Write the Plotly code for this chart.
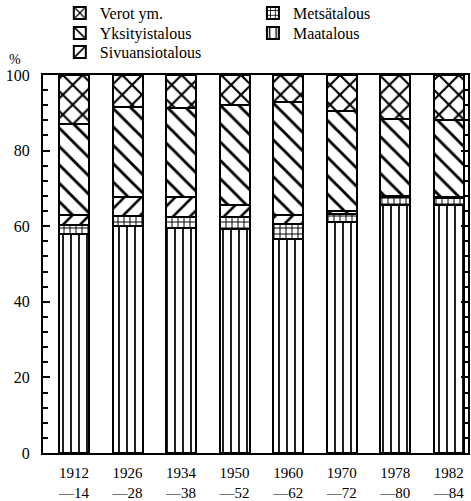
import plotly.graph_objects as go

periods = ["1912<br>—14", "1926<br>—28", "1934<br>—38", "1950<br>—52",
           "1960<br>—62", "1970<br>—72", "1978<br>—80", "1982<br>—84"]

maatalous       = [58.0, 60.0, 59.5, 59.3, 56.5, 61.0, 65.5, 65.5]
metsatalous     = [2.2, 2.7, 3.0, 3.2, 4.2, 2.3, 2.1, 2.0]
sivuansiotalous = [2.7, 4.9, 5.1, 3.1, 2.2, 0.8, 0.4, 0.3]
yksityistalous  = [24.2, 24.0, 23.8, 26.4, 29.9, 26.4, 20.3, 20.3]
verot           = [12.9, 8.4, 8.6, 8.0, 7.2, 9.5, 11.7, 11.9]

# name, values, pattern, size, solidity, legend id, legend x, legend y (container fractions)
series = [
    ("Maatalous", maatalous, "|", 8, 0.22, "legend5", 0.537, 1 - 33 / 501),
    ("Metsätalous", metsatalous, "+", 6, 0.3, "legend4", 0.537, 1 - 13 / 501),
    ("Sivuansiotalous", sivuansiotalous, "/", 12, 0.22, "legend3", 0.127, 1 - 52 / 501),
    ("Yksityistalous", yksityistalous, "\\", 13, 0.22, "legend2", 0.127, 1 - 33 / 501),
    ("Verot ym.", verot, "x", 14, 0.28, "legend", 0.127, 1 - 13 / 501),
]

FONT = "Liberation Serif"

fig = go.Figure()
legends = {}
for name, vals, shape, size, sol, leg, lx, ly in series:
    fig.add_trace(go.Bar(
        x=periods, y=vals, name=name, legend=leg, width=0.56,
        marker=dict(color="white", line=dict(color="black", width=2),
                    pattern=dict(shape=shape, size=size, solidity=sol,
                                 fgcolor="black", bgcolor="white",
                                 fgopacity=1, fillmode="overlay")),
        hoverinfo="skip",
    ))
    legends[leg] = dict(x=lx, y=ly, xref="container", yref="container",
                        xanchor="left", yanchor="middle",
                        orientation="v", font=dict(family=FONT, size=16),
                        itemwidth=30, bgcolor="rgba(0,0,0,0)")

fig.update_layout(
    width=471, height=501,
    barmode="stack",
    plot_bgcolor="white", paper_bgcolor="white",
    margin=dict(l=43, r=3, t=75, b=48, autoexpand=False),
    font=dict(family=FONT, size=15, color="black"),
    showlegend=True,
    **legends,
)
fig.add_annotation(text="%", x=-0.065, y=1.04, xref="paper", yref="paper",
                   xanchor="center", yanchor="middle", showarrow=False,
                   font=dict(family=FONT, size=14))

fig.update_xaxes(
    type="category", range=[-0.58, 7.36], automargin=False,
    showline=True, linecolor="black", linewidth=2, mirror=True,
    ticks="", showgrid=False, ticklabelstandoff=5, tickangle=0,
    tickfont=dict(family=FONT, size=15),
)
fig.update_yaxes(
    range=[0, 100], tickvals=[0, 20, 40, 60, 80, 100], automargin=False,
    showline=True, linecolor="black", linewidth=2, mirror="ticks",
    ticks="inside", ticklen=7, tickwidth=2, tickcolor="black",
    minor=dict(dtick=4, ticks="inside", ticklen=5, tickwidth=1.5, tickcolor="black"),
    showgrid=False, zeroline=False, ticklabelstandoff=8,
    tickfont=dict(family=FONT, size=16),
)

fig.write_html("out.html", config={"displayModeBar": False},
               post_script="document.body.style.margin='0';document.body.style.overflow='hidden';")
